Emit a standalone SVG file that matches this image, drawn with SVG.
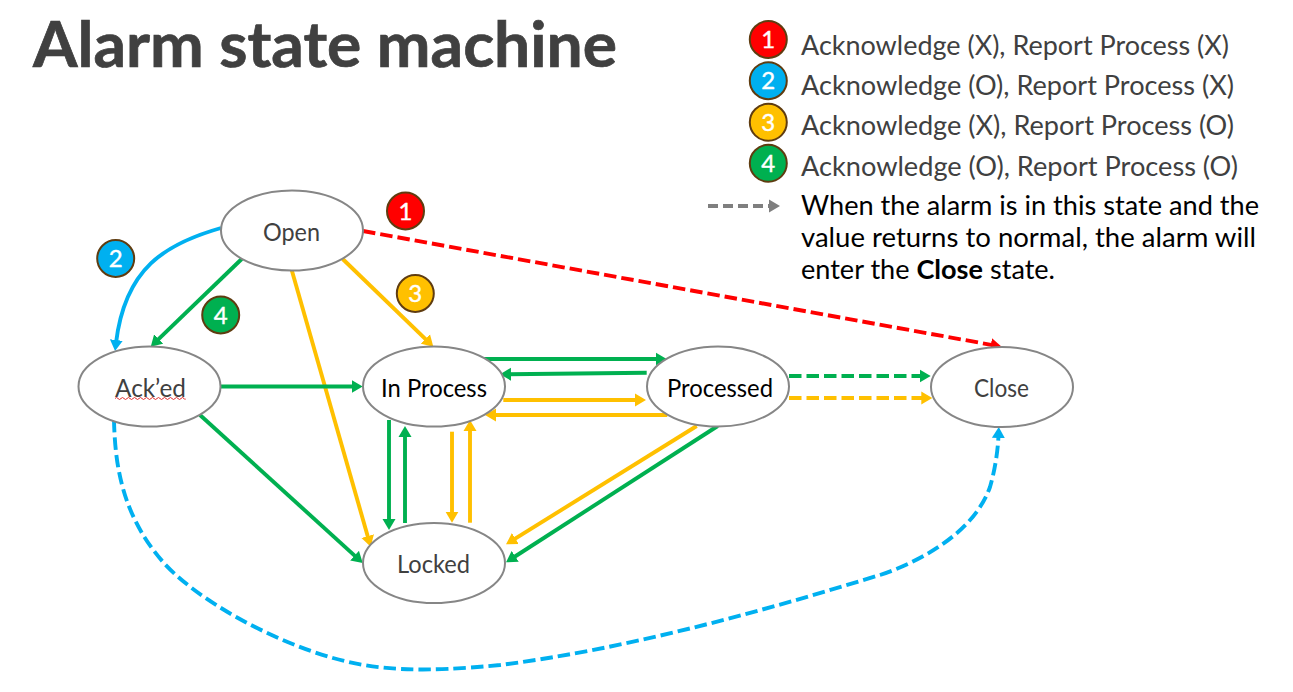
<svg xmlns="http://www.w3.org/2000/svg" width="1293" height="692" viewBox="0 0 1293 692">
<style>
text{font-family:"Lato","Liberation Sans",sans-serif}
.n{fill:#fff;stroke:#868686;stroke-width:2}
.nt{font-size:25px;text-anchor:middle;fill:#404040}
.k{fill:#000}
.c{fill:none;stroke-width:3.9}
.g{stroke:#00b050}.y{stroke:#ffc000}.b{stroke:#00b0f0}.r{stroke:#ff0000}.h{stroke:#7f7f7f}
.d{stroke-dasharray:12.5 5}
.bd{stroke:#5f3c10;stroke-width:2}
.bt{font-size:24px;text-anchor:middle;fill:#fff;stroke:#fff;stroke-width:.4}
.lg{font-size:26px;fill:#404040}
.lk{font-size:26px;fill:#000}
</style>
<defs>
<marker id="ag" markerUnits="userSpaceOnUse" markerWidth="14" markerHeight="14" refX="3" refY="7" orient="auto"><path d="M0,0.5L11,7L0,13.5Z" fill="#00b050"/></marker>
<marker id="ay" markerUnits="userSpaceOnUse" markerWidth="14" markerHeight="14" refX="3" refY="7" orient="auto"><path d="M0,0.5L11,7L0,13.5Z" fill="#ffc000"/></marker>
<marker id="ab" markerUnits="userSpaceOnUse" markerWidth="14" markerHeight="14" refX="3" refY="7" orient="auto"><path d="M0,0.5L11,7L0,13.5Z" fill="#00b0f0"/></marker>
<marker id="ar" markerUnits="userSpaceOnUse" markerWidth="14" markerHeight="14" refX="3" refY="7" orient="auto"><path d="M0,0.5L11,7L0,13.5Z" fill="#ff0000"/></marker>
<marker id="ah" markerUnits="userSpaceOnUse" markerWidth="14" markerHeight="14" refX="3" refY="7" orient="auto"><path d="M0,0.5L11,7L0,13.5Z" fill="#7f7f7f"/></marker>
</defs>
<rect width="1293" height="692" fill="#fff"/>
<text x="33" y="67" font-size="63" font-weight="700" fill="#404040" stroke="#404040" stroke-width=".7" textLength="584" lengthAdjust="spacingAndGlyphs">Alarm state machine</text>

<g id="connectors">
<path class="c g" marker-end="url(#ag)" d="M241.7,259L156.5,341.1"/>
<path class="c y" marker-end="url(#ay)" d="M342.7,259L427.6,341.1"/>
<path class="c y" marker-end="url(#ay)" d="M291.7,270L368.5,539"/>
<path class="c b" marker-end="url(#ab)" d="M221,228C165,244 125,268 116,343"/>
<path class="c g" marker-end="url(#ag)" d="M221,386.5L354.7,386.5"/>
<path class="c g" marker-end="url(#ag)" d="M200,415L356.8,557.6"/>
<path class="c r d" marker-end="url(#ar)" d="M363,231L993.8,345.3"/>
<path class="c g" marker-end="url(#ag)" d="M484,359L658.7,359"/>
<path class="c g" marker-end="url(#ag)" d="M646.7,372.7L508,374.2"/>
<path class="c y" marker-end="url(#ay)" d="M503.3,400L638,400"/>
<path class="c y" marker-end="url(#ay)" d="M667.3,415L493,415"/>
<path class="c g" marker-end="url(#ag)" d="M389,420L389,522"/>
<path class="c g" marker-end="url(#ag)" d="M405,523L405,434"/>
<path class="c y" marker-end="url(#ay)" d="M452,431.7L452,514.7"/>
<path class="c y" marker-end="url(#ay)" d="M470,522.7L470,428"/>
<path class="c y" marker-end="url(#ay)" d="M696.7,426L512.8,540.1"/>
<path class="c g" marker-end="url(#ag)" d="M717.7,426L512.7,558"/>
<path class="c g d" marker-end="url(#ag)" d="M789,376L922.7,376"/>
<path class="c y d" marker-end="url(#ay)" d="M789,398L924.3,398"/>
<path class="c b d" marker-end="url(#ab)" d="M114,420C115,465 122,515 163,562C197,600 270,640 333,658C375,670 420,673 500,665C620,650 750,615 880,575C925,560 975,530 990,487C995,470 998,450 998.5,435"/>
<path class="c h" stroke-dasharray="10 5" marker-end="url(#ah)" d="M708,206L772,206"/>
</g>

<g id="open"><ellipse class="n" cx="292" cy="230.5" rx="71" ry="40"/><text class="nt" x="291.5" y="240.5" textLength="57" lengthAdjust="spacingAndGlyphs">Open</text></g>
<g id="acked"><ellipse class="n" cx="149.5" cy="386.5" rx="71" ry="40"/><text class="nt" x="150.5" y="396.5" textLength="71" lengthAdjust="spacingAndGlyphs">Ack’ed</text><path d="M115,398.5q1.5,-2 3,0t3,0t3,0t3,0t3,0t3,0t3,0t3,0t3,0t3,0t3,0t3,0t3,0t3,0t3,0t3,0t3,0t3,0t3,0t3,0t3,0t3,0t3,0t1,0" fill="none" stroke="#e03030" stroke-width="1"/></g>
<g id="in-process"><ellipse class="n" cx="434" cy="386.5" rx="71" ry="40"/><text class="nt k" x="434" y="396.5" textLength="106" lengthAdjust="spacingAndGlyphs">In Process</text></g>
<g id="processed"><ellipse class="n" cx="718" cy="386.5" rx="71" ry="40"/><text class="nt k" x="720" y="396.5" textLength="106" lengthAdjust="spacingAndGlyphs">Processed</text></g>
<g id="close"><ellipse class="n" cx="1002" cy="387" rx="71" ry="40"/><text class="nt" x="1001.5" y="396.5" textLength="55" lengthAdjust="spacingAndGlyphs">Close</text></g>
<g id="locked"><ellipse class="n" cx="434" cy="563" rx="71" ry="40"/><text class="nt" x="433.5" y="572.5" textLength="73" lengthAdjust="spacingAndGlyphs">Locked</text></g>

<g id="badge-1"><circle class="bd" cx="405.5" cy="211" r="18.5" fill="#ff0000"/><text class="bt" x="405.5" y="219.5">1</text></g>
<g id="badge-2"><circle class="bd" cx="115.7" cy="258.5" r="18.5" fill="#00b0f0"/><text class="bt" x="115.7" y="267">2</text></g>
<g id="badge-3"><circle class="bd" cx="415.3" cy="293.5" r="18.5" fill="#ffc000"/><text class="bt" x="415.3" y="302">3</text></g>
<g id="badge-4"><circle class="bd" cx="220.7" cy="315" r="18.5" fill="#00b050"/><text class="bt" x="220.7" y="323.5">4</text></g>

<g id="legend-1"><ellipse class="bd" cx="768.3" cy="39.5" rx="18.5" ry="18.5" fill="#ff0000"/><text class="bt" x="768.3" y="48">1</text><text class="lg" x="801" y="55" textLength="428" lengthAdjust="spacingAndGlyphs">Acknowledge (X), Report Process (X)</text></g>
<g id="legend-2"><ellipse class="bd" cx="768.3" cy="80.7" rx="18.5" ry="18.5" fill="#00b0f0"/><text class="bt" x="768.3" y="89">2</text><text class="lg" x="801" y="95" textLength="433" lengthAdjust="spacingAndGlyphs">Acknowledge (O), Report Process (X)</text></g>
<g id="legend-3"><ellipse class="bd" cx="768.3" cy="122.3" rx="18.5" ry="18.5" fill="#ffc000"/><text class="bt" x="768.3" y="130.5">3</text><text class="lg" x="801" y="135" textLength="433" lengthAdjust="spacingAndGlyphs">Acknowledge (X), Report Process (O)</text></g>
<g id="legend-4"><ellipse class="bd" cx="768.3" cy="163.3" rx="18.5" ry="18.5" fill="#00b050"/><text class="bt" x="768.3" y="171.5">4</text><text class="lg" x="801" y="176" textLength="437" lengthAdjust="spacingAndGlyphs">Acknowledge (O), Report Process (O)</text></g>
<g id="legend-note">
<text class="lk" x="801" y="215" textLength="458" lengthAdjust="spacingAndGlyphs">When the alarm is in this state and the</text>
<text class="lk" x="801" y="247" textLength="455" lengthAdjust="spacingAndGlyphs">value returns to normal, the alarm will</text>
<text class="lk" x="801" y="279" textLength="254" lengthAdjust="spacingAndGlyphs">enter the <tspan font-weight="700">Close</tspan> state.</text>
</g>
</svg>
